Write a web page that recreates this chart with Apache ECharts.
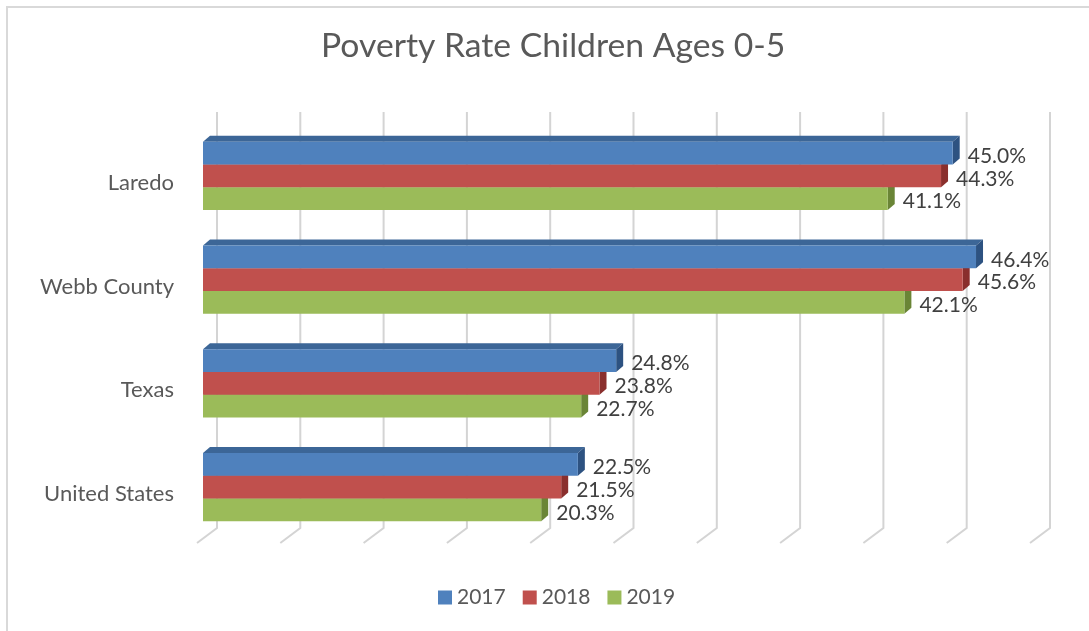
<!DOCTYPE html>
<html>
<head>
<meta charset="utf-8">
<script src="https://cdn.jsdelivr.net/npm/echarts@6/dist/echarts.min.js"></script>
<style>
  html, body { margin: 0; padding: 0; background: #ffffff; }
  #chart { width: 1089px; height: 631px; }
</style>
</head>
<body>
<div id="chart"></div>
<script>
// Poverty rate of children aged 0-5, by place and year (%)
const categories = ['Laredo', 'Webb County', 'Texas', 'United States'];
const years = ['2017', '2018', '2019'];
const rate2017 = [45.0, 46.4, 24.8, 22.5];
const rate2018 = [44.3, 45.6, 23.8, 21.5];
const rate2019 = [41.1, 42.1, 22.7, 20.3];
const axisTicks = [0, 5, 10, 15, 20, 25, 30, 35, 40, 45, 50];

const FONT = 'Lato, "Open Sans", sans-serif';

// front / top / side shades for each year's bars
const palette = [
  { front: '#4f81bd', top: '#3c6697', side: '#2d5281' },
  { front: '#c0504d', top: '#9a3c3a', side: '#8a2f2d' },
  { front: '#9bbb59', top: '#7a9744', side: '#6a8536' }
];

// depth of the extruded bars
const DX = 7, DY = -6;

function barRenderer(idx) {
  return function (params, api) {
    const value = api.value(0);
    const cat = api.value(1);
    const start = api.coord([0, cat]);
    const end = api.coord([value, cat]);
    const band = api.size([0, 1])[1];
    const h = band * 0.22;
    const y = start[1] - 1.5 * h + idx * h;
    const x0 = start[0], x1 = end[0];
    const c = palette[idx];
    return {
      type: 'group',
      children: [
        {
          type: 'polygon',
          shape: { points: [[x0, y], [x0 + DX, y + DY], [x1 + DX, y + DY], [x1, y]] },
          style: { fill: c.top }
        },
        {
          type: 'polygon',
          shape: { points: [[x1, y], [x1 + DX, y + DY], [x1 + DX, y + h + DY], [x1, y + h]] },
          style: { fill: c.side }
        },
        {
          type: 'rect',
          shape: { x: x0, y: y, width: x1 - x0, height: h },
          style: { fill: c.front }
        },
        {
          type: 'text',
          z2: 50,
          style: {
            text: value.toFixed(1) + '%',
            x: x1 + 15,
            y: y + h / 2 + 3,
            verticalAlign: 'middle',
            align: 'left',
            fill: '#404040',
            font: '21px ' + FONT
          }
        }
      ]
    };
  };
}

// gridlines drawn as back wall + floor edge of the 3D plot
function gridRenderer(params, api) {
  const v = api.value(0);
  const p = api.coord([v, 0]);
  const cs = params.coordSys;
  const top = cs.y, bottom = cs.y + cs.height;
  const x = p[0];
  return {
    type: 'polyline',
    shape: { points: [[x + 14, top - 12], [x + 14, bottom - 11], [x - 6, bottom + 4]] },
    style: { stroke: '#d4d4d4', lineWidth: 2, fill: null }
  };
}

const yearData = [rate2017, rate2018, rate2019];

const series = [
  {
    type: 'custom',
    name: 'grid',
    z: 1,
    silent: true,
    renderItem: gridRenderer,
    data: axisTicks.map(t => [t, 0]),
    encode: { x: 0, y: 1 }
  }
];
years.forEach((yr, i) => {
  series.push({
    type: 'custom',
    name: yr,
    z: 10 - i,
    itemStyle: { color: palette[i].front },
    renderItem: barRenderer(i),
    data: yearData[i].map((v, ci) => [v, ci]),
    encode: { x: 0, y: 1 }
  });
});

const chart = echarts.init(document.getElementById('chart'));
chart.setOption({
  animation: false,
  backgroundColor: '#ffffff',
  title: {
    text: 'Poverty Rate Children Ages 0-5',
    left: 316,
    top: 24,
    textStyle: { fontFamily: FONT, fontSize: 33.7, fontWeight: 'normal', color: '#595959' }
  },
  legend: {
    data: years,
    top: 582,
    left: 433,
    icon: 'rect',
    itemWidth: 14,
    itemHeight: 14,
    itemGap: 17,
    textStyle: { fontFamily: FONT, fontSize: 21, color: '#595959' }
  },
  graphic: [
    {
      type: 'rect',
      shape: { x: 7, y: 7, width: 1100, height: 650 },
      style: { fill: null, stroke: '#d9d9d9', lineWidth: 2 },
      silent: true
    }
  ],
  grid: { left: 203, right: 53, top: 124, bottom: 92 },
  xAxis: {
    type: 'value',
    min: 0,
    max: 50,
    interval: 5,
    axisLine: { show: false },
    axisTick: { show: false },
    axisLabel: { show: false },
    splitLine: { show: false }
  },
  yAxis: {
    type: 'category',
    data: categories,
    inverse: true,
    axisLine: { show: false },
    axisTick: { show: false },
    splitLine: { show: false },
    axisLabel: {
      margin: 29,
      formatter: '{l|{value}}',
      rich: {
        l: {
          fontFamily: FONT,
          fontSize: 22,
          color: '#595959',
          padding: [14, 0, 0, 0]
        }
      }
    }
  },
  series: series
});
</script>
</body>
</html>
